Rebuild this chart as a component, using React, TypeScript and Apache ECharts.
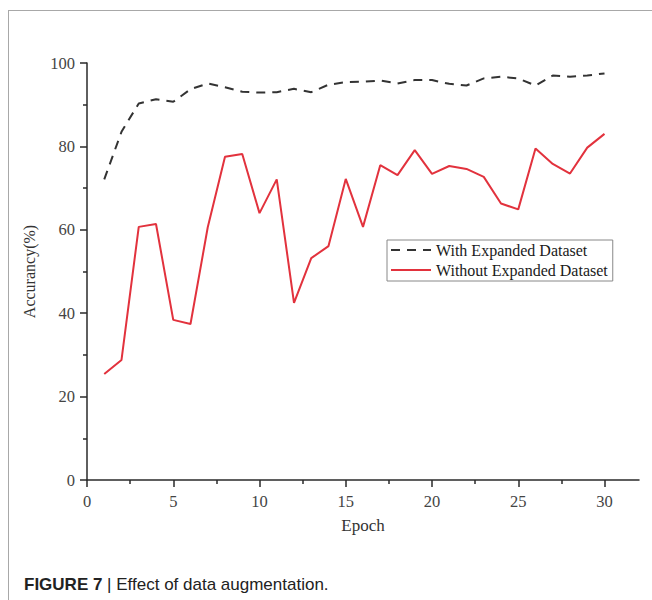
import React, { useEffect, useRef } from "react";
import * as echarts from "echarts";

const epochs = [1, 2, 3, 4, 5, 6, 7, 8, 9, 10, 11, 12, 13, 14, 15, 16, 17, 18, 19, 20, 21, 22, 23, 24, 25, 26, 27, 28, 29, 30];
const withExpanded = [72.1, 83.5, 90.3, 91.3, 90.7, 93.7, 95.1, 94.2, 93.1, 92.9, 93.0, 93.8, 93.0, 94.8, 95.4, 95.5, 95.8, 95.1, 95.9, 95.9, 95.0, 94.6, 96.3, 96.7, 96.3, 94.6, 97.0, 96.7, 97.0, 97.5];
const withoutExpanded = [25.4, 28.8, 60.7, 61.4, 38.4, 37.4, 60.6, 77.5, 78.2, 64.0, 72.1, 42.5, 53.2, 56.1, 72.2, 60.7, 75.5, 73.1, 79.1, 73.4, 75.3, 74.6, 72.7, 66.3, 64.9, 79.5, 75.8, 73.5, 79.7, 83.0];
const xTickValues = [0, 5, 10, 15, 20, 25, 30];
const xMinorTickValues = [2.5, 7.5, 12.5, 17.5, 22.5, 27.5];
const seriesNames = ["With Expanded Dataset", "Without Expanded Dataset"];

const SERIF = "'Liberation Serif', 'Times New Roman', serif";
const SANS = "'Liberation Sans', Arial, sans-serif";
const AXIS_COLOR = "#2a2a2a";
const DASH = [9, 7];

export default function App() {
  const ref = useRef<HTMLDivElement>(null);

  useEffect(() => {
    if (!ref.current) return;
    const chart = echarts.init(ref.current, null, { renderer: "svg" });
    const axisLineStyle = { color: AXIS_COLOR, width: 1.5 };
    chart.setOption({
      animation: false,
      backgroundColor: "#ffffff",
      grid: { left: 87, right: 13, top: 63, bottom: 120, containLabel: false },
      legend: {
        orient: "vertical",
        left: 387,
        top: 240,
        itemWidth: 40,
        itemHeight: 14,
        itemGap: 4,
        padding: [2, 5, 3, 3],
        borderColor: "#888",
        borderWidth: 1,
        itemStyle: { opacity: 0 },
        lineStyle: { width: 2, opacity: 1 },
        textStyle: { fontFamily: SERIF, fontSize: 16, color: "#1a1a1a" },
        data: [
          { name: seriesNames[0], lineStyle: { type: DASH, width: 2, color: "#333" } },
          { name: seriesNames[1], lineStyle: { type: "solid", width: 2, color: "#e2323d" } },
        ],
      },
      xAxis: [
        {
          type: "value",
          min: 0,
          max: 32,
          position: "bottom",
          axisLine: { show: true, lineStyle: axisLineStyle },
          axisTick: { show: true, inside: false, length: 7, customValues: xTickValues, lineStyle: axisLineStyle },
          axisLabel: { customValues: xTickValues, margin: 13, fontFamily: SERIF, fontSize: 16.5, color: "#444" },
          splitLine: { show: false },
          name: "Epoch",
          nameLocation: "middle",
          nameGap: 37,
          nameTextStyle: { fontFamily: SERIF, fontSize: 17, color: "#333" },
        },
        {
          type: "value",
          min: 0,
          max: 32,
          position: "bottom",
          axisLine: { show: false },
          axisTick: { show: true, inside: false, length: 4, customValues: xMinorTickValues, lineStyle: axisLineStyle },
          axisLabel: { show: false },
          splitLine: { show: false },
        },
      ],
      yAxis: {
        type: "value",
        min: 0,
        max: 100,
        interval: 20,
        axisLine: { show: true, lineStyle: axisLineStyle },
        axisTick: { show: true, inside: false, length: 7, lineStyle: axisLineStyle },
        minorTick: { show: true, splitNumber: 2, length: 4, lineStyle: axisLineStyle },
        axisLabel: { margin: 12, fontFamily: SERIF, fontSize: 16.5, color: "#444" },
        splitLine: { show: false },
        name: "Accurancy(%)",
        nameLocation: "middle",
        nameGap: 50,
        nameTextStyle: { fontFamily: SERIF, fontSize: 16, color: "#333" },
      },
      series: [
        {
          type: "line",
          name: seriesNames[0],
          xAxisIndex: 0,
          data: epochs.map((e, i) => [e, withExpanded[i]]),
          symbol: "none",
          showSymbol: false,
          lineStyle: { color: "#333", width: 2, type: DASH },
          itemStyle: { color: "#333" },
        },
        {
          type: "line",
          name: seriesNames[1],
          xAxisIndex: 0,
          data: epochs.map((e, i) => [e, withoutExpanded[i]]),
          symbol: "none",
          showSymbol: false,
          lineStyle: { color: "#e2323d", width: 2 },
          itemStyle: { color: "#e2323d" },
        },
      ],
      graphic: [
        { type: "line", shape: { x1: 8, y1: 10.5, x2: 652, y2: 10.5 }, style: { stroke: "#a8a8a8", lineWidth: 1 } },
        { type: "line", shape: { x1: 8.5, y1: 10, x2: 8.5, y2: 600 }, style: { stroke: "#a8a8a8", lineWidth: 1 } },
        {
          type: "text",
          x: 24,
          y: 584,
          style: {
            text: "{b|FIGURE 7} | Effect of data augmentation.",
            font: `17px ${SANS}`,
            fill: "#222",
            verticalAlign: "middle",
            rich: {
              b: { fontFamily: SANS, fontSize: 17, fontWeight: "bold", fill: "#222" },
            },
          },
        },
      ],
    });
    return () => chart.dispose();
  }, []);

  return (
    <div
      ref={ref}
      style={{ position: "absolute", left: 0, top: 0, width: 652, height: 600, background: "#fff" }}
    />
  );
}
